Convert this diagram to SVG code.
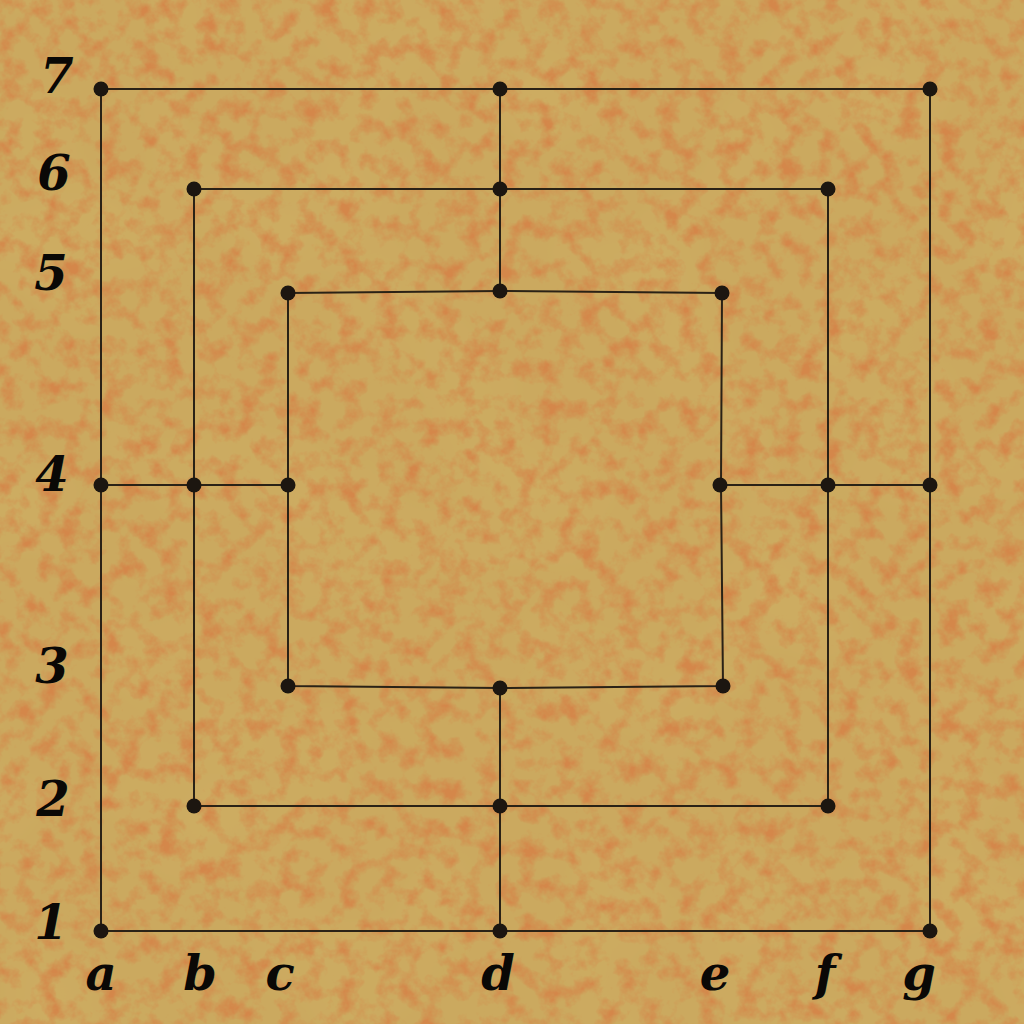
<svg xmlns="http://www.w3.org/2000/svg" width="1024" height="1024" viewBox="0 0 1024 1024">
<defs>
<filter id="paper" x="0" y="0" width="1024" height="1024" filterUnits="userSpaceOnUse" color-interpolation-filters="sRGB">
<feTurbulence type="fractalNoise" baseFrequency="0.05" numOctaves="4" seed="7" result="n"/>
<feColorMatrix in="n" type="matrix" values="0 0 0 0 0.83  0 0 0 0 0.53  0 0 0 0 0.29  2.6 0 0 0 -1.12" result="spots"/>
<feTurbulence type="fractalNoise" baseFrequency="0.007" numOctaves="2" seed="2" result="n2"/>
<feColorMatrix in="n2" type="matrix" values="0 0 0 0 0.82  0 0 0 0 0.70  0 0 0 0 0.40  0.9 0 0 0 -0.4" result="light"/>
<feFlood flood-color="#cba95f" result="base"/>
<feComposite in="light" in2="base" operator="over" result="b2"/>
<feComposite in="spots" in2="b2" operator="over"/>
</filter>
<style>
.ln{stroke:#2a2216;stroke-width:2;fill:none;stroke-linecap:square}
.nd{fill:#1c1610}
.lb{font-family:"DejaVu Serif",serif;font-weight:bold;font-style:italic;font-size:48px;fill:#0a0806;text-anchor:middle}
</style>
</defs>
<rect width="1024" height="1024" fill="#cba95f" filter="url(#paper)"/>
<g id="connectors">
<polyline class="ln" points="101,89 500,89 930,89 930,485 930,931 500,931 101,931 101,485 101,89"/>
<polyline class="ln" points="194,189 500,189 828,189 828,485 828,806 500,806 194,806 194,485 194,189"/>
<polyline class="ln" points="288,293 500,291 722,293 721,485 723,686 500,688 288,686 288,485 288,293"/>
<line class="ln" x1="500" y1="89" x2="500" y2="291"/>
<line class="ln" x1="500" y1="688" x2="500" y2="931"/>
<line class="ln" x1="101" y1="485" x2="288" y2="485"/>
<line class="ln" x1="721" y1="485" x2="930" y2="485"/>
</g>
<g id="nodes">
<circle id="a7" class="nd" cx="101" cy="89" r="7.5"/>
<circle id="d7" class="nd" cx="500" cy="89" r="7.5"/>
<circle id="g7" class="nd" cx="930" cy="89" r="7.5"/>
<circle id="b6" class="nd" cx="194" cy="189" r="7.5"/>
<circle id="d6" class="nd" cx="500" cy="189" r="7.5"/>
<circle id="f6" class="nd" cx="828" cy="189" r="7.5"/>
<circle id="c5" class="nd" cx="288" cy="293" r="7.5"/>
<circle id="d5" class="nd" cx="500" cy="291" r="7.5"/>
<circle id="e5" class="nd" cx="722" cy="293" r="7.5"/>
<circle id="a4" class="nd" cx="101" cy="485" r="7.5"/>
<circle id="b4" class="nd" cx="194" cy="485" r="7.5"/>
<circle id="c4" class="nd" cx="288" cy="485" r="7.5"/>
<circle id="e4" class="nd" cx="720" cy="485" r="7.5"/>
<circle id="f4" class="nd" cx="828" cy="485" r="7.5"/>
<circle id="g4" class="nd" cx="930" cy="485" r="7.5"/>
<circle id="c3" class="nd" cx="288" cy="686" r="7.5"/>
<circle id="d3" class="nd" cx="500" cy="688" r="7.5"/>
<circle id="e3" class="nd" cx="723" cy="686" r="7.5"/>
<circle id="b2" class="nd" cx="194" cy="806" r="7.5"/>
<circle id="d2" class="nd" cx="500" cy="806" r="7.5"/>
<circle id="f2" class="nd" cx="828" cy="806" r="7.5"/>
<circle id="a1" class="nd" cx="101" cy="931" r="7.5"/>
<circle id="d1" class="nd" cx="500" cy="931" r="7.5"/>
<circle id="g1" class="nd" cx="930" cy="931" r="7.5"/>
</g>
<g id="labels">
<text class="lb" x="57" y="93">7</text>
<text class="lb" x="54" y="190">6</text>
<text class="lb" x="51" y="290">5</text>
<text class="lb" x="52" y="491">4</text>
<text class="lb" x="52" y="683">3</text>
<text class="lb" x="53" y="816">2</text>
<text class="lb" x="51" y="939">1</text>
<text class="lb" x="101" y="990">a</text>
<text class="lb" x="200" y="990">b</text>
<text class="lb" x="280" y="990">c</text>
<text class="lb" x="498" y="990">d</text>
<text class="lb" x="715" y="990">e</text>
<text class="lb" x="825" y="990">f</text>
<text class="lb" x="919" y="990">g</text>
</g>
</svg>
